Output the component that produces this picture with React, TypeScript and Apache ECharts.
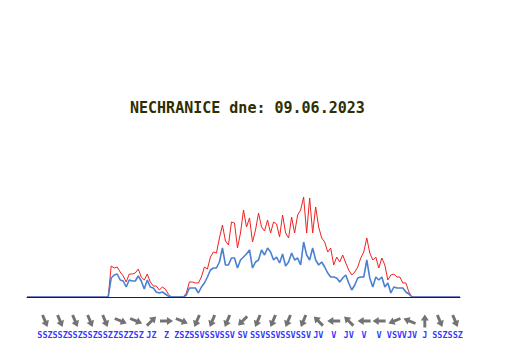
import React, { useEffect, useRef } from 'react';
import * as echarts from 'echarts';

const TITLE = 'NECHRANICE dne: 09.06.2023';

// wind gust (red), one value per time step, index 0..144
const GUST = [
  0, 0, 0, 0, 0, 0, 0, 0, 0, 0, 0, 0, 0, 0, 0, 0, 0, 0, 0, 0, 0, 0, 0, 0, 0, 0, 0, 0,
  3.1, 2.9, 3.0, 2.5, 2.1, 1.5, 2.3, 2.3, 2.4, 2.8, 2.0, 1.7, 2.3, 1.5, 1.1, 1.1, 0.7, 1.0, 0.8, 0.3,
  0, 0, 0, 0, 0,
  0.4, 1.5, 1.5, 1.4, 1.4, 2.0, 3.0, 2.8, 4.0, 4.5, 4.4, 5.9, 7.2, 5.6, 5.2, 7.5, 7.4, 4.9, 6.4, 8.7,
  7.0, 7.9, 5.5, 6.7, 8.4, 7.0, 6.6, 7.7, 6.4, 7.5, 7.3, 6.0, 8.2, 6.4, 5.9, 8.0, 6.4, 8.2, 8.7, 10.0,
  6.4, 9.9, 6.4, 9.0, 7.0, 5.9, 5.5, 4.5, 4.9, 3.2, 4.0, 3.5, 4.2, 3.4, 2.7, 2.2, 2.5, 3.0, 3.9, 4.5,
  5.9, 4.4, 3.7, 4.0, 2.9, 3.9, 3.2, 1.7, 2.2, 2.3, 2.0, 2.0, 1.4, 1.4, 0.5,
  0, 0, 0, 0, 0, 0, 0, 0, 0, 0, 0, 0, 0, 0, 0, 0, 0,
];

// mean wind speed (blue)
const SPEED = [
  0, 0, 0, 0, 0, 0, 0, 0, 0, 0, 0, 0, 0, 0, 0, 0, 0, 0, 0, 0, 0, 0, 0, 0, 0, 0, 0, 0,
  1.9, 2.2, 2.3, 1.7, 1.6, 1.0, 1.7, 1.6, 1.6, 2.1, 1.6, 0.8, 1.7, 1.0, 0.9, 0.5, 0.4, 0.5, 0.3, 0.1,
  0, 0, 0, 0, 0,
  0.2, 0.9, 0.9, 0.9, 0.4, 1.0, 1.4, 2.0, 2.7, 2.9, 2.9, 3.5, 4.9, 3.2, 3.2, 3.9, 3.9, 2.9, 3.7, 4.0,
  4.3, 4.7, 2.9, 3.5, 3.7, 4.7, 4.2, 4.9, 4.5, 3.7, 4.0, 3.4, 4.3, 3.1, 3.5, 4.4, 3.7, 3.9, 3.2, 5.5,
  4.2, 3.7, 4.9, 3.7, 3.2, 3.5, 3.0, 2.4, 2.0, 2.0, 1.9, 1.5, 1.9, 2.2, 1.4, 0.7, 1.2, 1.9, 2.0, 2.0,
  3.7, 1.9, 1.0, 2.0, 1.7, 2.0, 1.0, 1.4, 0.4, 1.0, 0.9, 0.9, 0.9, 0.5, 0.3,
  0, 0, 0, 0, 0, 0, 0, 0, 0, 0, 0, 0, 0, 0, 0, 0, 0,
];

// wind direction arrows: time position and direction (where the wind blows from)
const ARROW_POS = [
  6, 11, 16, 21, 26, 31.2, 36.3, 41.4, 46.4, 51.5, 56.5, 61.6, 66.6, 71.7,
  76.7, 81.8, 86.8, 91.9, 96.9, 102, 107, 112.1, 117.1, 122.2, 127.2, 132.3, 137.3, 142.4,
];
const ARROW_DIR = [
  'SSZ', 'SSZ', 'SSZ', 'SSZ', 'SSZ', 'ZSZ', 'ZSZ', 'JZ', 'Z', 'ZSZ', 'SSV', 'SSV', 'SSV', 'SV',
  'SSV', 'SSV', 'SSV', 'SSV', 'JV', 'V', 'JV', 'V', 'V', 'VSV', 'VJV', 'J', 'SSZ', 'SSZ',
];
const DIR_DEG: Record<string, number> = {
  S: 0, SSV: 22.5, SV: 45, VSV: 67.5, V: 90, VJV: 112.5, JV: 135, JJV: 157.5,
  J: 180, JJZ: 202.5, JZ: 225, ZJZ: 247.5, Z: 270, ZSZ: 292.5, SZ: 315, SSZ: 337.5,
};

const ARROW_PATH = 'path://M6,0 L12,7 L8.2,7 L8.2,15 L3.8,15 L3.8,7 L0,7 Z';

export default function App() {
  const ref = useRef<HTMLDivElement>(null);
  useEffect(() => {
    const chart = echarts.init(ref.current!, null, { renderer: 'svg' });
    const gustData = GUST.map((v, i) => [i, v]);
    const speedData = SPEED.map((v, i) => [i, v]);
    const arrowData = ARROW_POS.map((p, k) => ({
      value: [p, 0.5],
      name: ARROW_DIR[k],
      symbolRotate: -((DIR_DEG[ARROW_DIR[k]] + 180) % 360),
    }));
    chart.setOption({
      animation: false,
      backgroundColor: '#ffffff',
      title: {
        text: TITLE,
        left: 130,
        top: 100,
        padding: 0,
        textStyle: {
          fontFamily: 'DejaVu Sans Mono',
          fontWeight: 'bold',
          fontSize: 15,
          color: '#2e2e00',
        },
      },
      grid: [
        { left: 27, width: 433, top: 97, height: 200 },
        { left: 27, width: 433, top: 313, height: 16 },
      ],
      xAxis: [
        {
          gridIndex: 0,
          type: 'value',
          min: 0,
          max: 144,
          z: 5,
          axisLine: { show: true, onZero: false, lineStyle: { color: '#222200', width: 1 } },
          axisTick: { show: false },
          axisLabel: { show: false },
          splitLine: { show: false },
        },
        { gridIndex: 1, type: 'value', min: 0, max: 144, show: false },
      ],
      yAxis: [
        { gridIndex: 0, type: 'value', min: 0, max: 20, show: false },
        { gridIndex: 1, type: 'value', min: 0, max: 1, show: false },
      ],
      series: [
        {
          name: 'naraz',
          type: 'line',
          xAxisIndex: 0,
          yAxisIndex: 0,
          data: gustData,
          showSymbol: false,
          lineStyle: { color: '#ee2222', width: 1 },
          z: 2,
        },
        {
          name: 'rychlost',
          type: 'line',
          xAxisIndex: 0,
          yAxisIndex: 0,
          data: speedData,
          showSymbol: false,
          lineStyle: { color: '#4a80d2', width: 1.6 },
          z: 3,
        },
        {
          name: 'smer',
          type: 'scatter',
          xAxisIndex: 1,
          yAxisIndex: 1,
          data: arrowData,
          symbol: ARROW_PATH,
          symbolSize: [10, 13],
          symbolKeepAspect: true,
          itemStyle: { color: '#505050' },
          label: {
            show: true,
            position: 'inside',
            offset: [0, 14],
            formatter: (p: any) => p.name,
            color: '#0000ff',
            fontFamily: 'DejaVu Sans Mono',
            fontWeight: 'bold',
            fontSize: 8.5,
          },
        },
      ],
    });
    return () => chart.dispose();
  }, []);
  return (
    <div
      ref={ref}
      style={{ position: 'fixed', left: 0, top: 0, width: 532, height: 360, background: '#fff' }}
    />
  );
}
